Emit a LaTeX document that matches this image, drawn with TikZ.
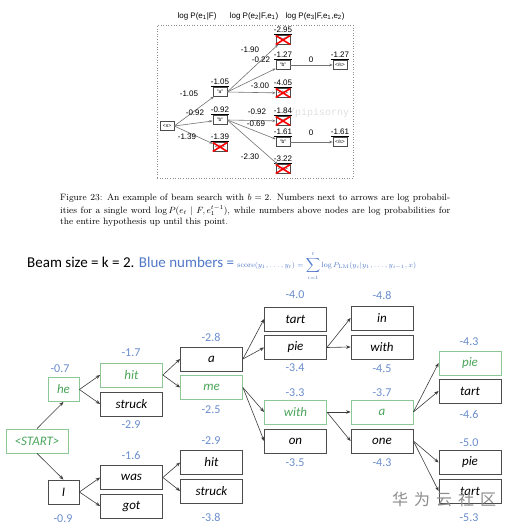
\documentclass[tikz,border=0pt]{standalone}
\usepackage{fontspec}
\usetikzlibrary{arrows.meta,calc}
\newfontfamily\arialf{Liberation Sans}
\newfontfamily\calf{Carlito}
\newfontfamily\cjkf{Noto Sans CJK SC}
\newfontfamily\monof{Liberation Mono}
\definecolor{numblue}{RGB}{105,140,205}
\definecolor{titleblue}{RGB}{80,120,200}
\definecolor{gtext}{RGB}{75,165,90}
\definecolor{gborder}{RGB}{140,200,150}
\definecolor{edgegray}{RGB}{60,60,60}
\tikzset{
 tbox/.style={draw=black!70, line width=0.5pt, minimum width=14pt, minimum height=8.5pt, inner sep=0pt, font=\arialf\fontsize{5}{5}\selectfont},
 tlab/.style={font=\arialf\fontsize{8}{9}\selectfont, inner sep=0.5pt},
 tedge/.style={draw=black!55, line width=0.6pt, -{Stealth[length=3.5pt,width=2.5pt]}},
 redx/.style={draw=red, line width=1.6pt},
 bbox/.style={draw=black!70, line width=0.8pt, minimum width=62pt, minimum height=24pt, inner sep=0pt, font=\calf\itshape\fontsize{13}{13}\selectfont},
 gbox/.style={bbox, draw=gborder, text=gtext},
 sbox/.style={minimum width=31pt},
 bnum/.style={font=\calf\fontsize{12}{12}\selectfont, text=numblue, inner sep=0pt},
 bedge/.style={draw=edgegray, line width=0.6pt, -{Stealth[length=4.5pt,width=3.5pt]}},
 ulab/.style={label={[tlab,label distance=0pt]above:\underline{#1}}},
}
\newcommand\redcross[1]{\draw[redx] (#1.north west) -- (#1.south east) (#1.north east) -- (#1.south west);}
\begin{document}
\begin{tikzpicture}[x=1pt,y=-1pt]
\useasboundingbox (0,0) rectangle (510,526);
% ---------- top diagram ----------
\node[tlab] (h1) at (197,16) {log P(e\textsubscript{1}|F)};
\node[tlab] (h2) at (254,16) {log P(e\textsubscript{2}|F,e\textsubscript{1})};
\node[tlab] (h3) at (315,16) {log P(e\textsubscript{3}|F,e\textsubscript{1},e\textsubscript{2})};
\node[draw=black!45, dotted, line width=0.6pt, minimum width=196pt, minimum height=153pt, inner sep=0pt] (frame) at (255,101.5) {};
\node[text=black!12, font=\monof\fontsize{10}{10}\selectfont] (wm1) at (316,113) {t/pipisorny};

\node[tbox] (s) at (167,126) {<s>};
\node[tbox, ulab=-1.05] (a1) at (220,92) {"a"};
\node[tbox, ulab=-0.92] (b1) at (220,120) {"b"};
\node[tbox, ulab=-1.39] (x1) at (220,147) {</s>};
\node[tbox, ulab=-2.95] (x2) at (283,40) {"a"};
\node[tbox, ulab=-1.27] (b2) at (283,65) {"b"};
\node[tbox, ulab=-4.05] (x3) at (283,93) {</s>};
\node[tbox, ulab=-1.84] (x4) at (283,121) {"a"};
\node[tbox, ulab=-1.61] (b3) at (283,142) {"b"};
\node[tbox, ulab=-3.22] (x5) at (283,169) {</s>};
\node[tbox, ulab=-1.27] (e1) at (340,65) {</s>};
\node[tbox, ulab=-1.61] (e2) at (340,142) {</s>};

\draw[tedge] (s.east) -- (a1);
\draw[tedge] (s.east) -- (b1);
\draw[tedge] (s.east) -- (x1);
\draw[tedge] (a1.east) -- (x2);
\draw[tedge] (a1.east) -- (b2);
\draw[tedge] (a1.east) -- (x3);
\draw[tedge] (b1.east) -- (x4);
\draw[tedge] (b1.east) -- (b3);
\draw[tedge] (b1.east) -- (x5);
\draw[tedge] (b2) -- (e1);
\draw[tedge] (b3) -- (e2);

\redcross{x1}\redcross{x2}\redcross{x3}\redcross{x4}\redcross{x5}

\node[tlab] (l1) at (189,94) {-1.05};
\node[tlab] (l2) at (195,113) {-0.92};
\node[tlab] (l3) at (187,137) {-1.39};
\node[tlab] (l4) at (250,50) {-1.90};
\node[tlab] (l5) at (261,60) {-0.22};
\node[tlab] (l6) at (260,86) {-3.00};
\node[tlab] (l7) at (257,112) {-0.92};
\node[tlab] (l8) at (256,124) {-0.69};
\node[tlab] (l9) at (250,157) {-2.30};
\node[tlab] (l10) at (311,60) {0};
\node[tlab] (l11) at (311,133) {0};

% ---------- caption ----------
\begin{scope}[every node/.style={anchor=base west, inner sep=0pt, font=\fontsize{9.2}{11}\selectfont}]
\node (c1) at (60,201) {\makebox[390pt][s]{Figure 23: An example of beam search with $b=2$. Numbers next to arrows are log probabil-}};
\node (c2) at (60,213.5) {\makebox[390pt][s]{ities for a single word $\log P(e_t \mid F, e_1^{t-1})$, while numbers above nodes are log probabilities for}};
\node (c3) at (60,224.5) {the entire hypothesis up until this point.};
\end{scope}

% ---------- bottom title ----------
\node[anchor=base west, inner sep=0pt, font=\calf\fontsize{15}{15}\selectfont] (title) at (27,267)
 {Beam size = k = 2. \textcolor{titleblue}{Blue numbers =} \textcolor{titleblue}{\fontsize{7.5}{9}\selectfont $\mathrm{score}(y_1,\ldots,y_t)=\displaystyle\sum_{i=1}^{t}\log P_{\mathrm{LM}}(y_i|y_1,\ldots,y_{i-1},x)$}};

% ---------- bottom tree ----------
\node[gbox] (start) at (37,441) {<START>};
\node[gbox, sbox] (he) at (63.5,389.5) {he};
\node[bbox, sbox] (I) at (63.5,492) {I};
\node[gbox] (hit) at (131.5,375) {hit};
\node[bbox] (struck) at (131.5,404) {struck};
\node[bbox] (was) at (131.5,477.5) {was};
\node[bbox] (got) at (131.5,506) {got};
\node[bbox] (a) at (211.5,359) {a};
\node[gbox] (me) at (211.5,387.5) {me};
\node[bbox] (hitb) at (211.5,462.5) {hit};
\node[bbox] (struckb) at (211.5,491) {struck};
\node[bbox] (tart) at (295.5,319) {tart};
\node[bbox] (pie) at (295.5,347.5) {pie};
\node[gbox] (with) at (295.5,412) {with};
\node[bbox] (on) at (295.5,441) {on};
\node[bbox] (in) at (382,318) {in};
\node[bbox] (withb) at (382,347) {with};
\node[gbox] (ag) at (382,412) {a};
\node[bbox] (one) at (382,441) {one};
\node[gbox] (pieg) at (470,363) {pie};
\node[bbox] (tartc) at (470,391) {tart};
\node[bbox] (pied) at (470,462.5) {pie};
\node[bbox] (tartd) at (470,491) {tart};

\draw[bedge] (start.north) -- (he.south);
\draw[bedge] (start.south) -- (I.north);
\draw[bedge] (he.east) -- (hit.west);
\draw[bedge] (he.east) -- (struck.west);
\draw[bedge] (I.east) -- (was.west);
\draw[bedge] (I.east) -- (got.west);
\draw[bedge] (hit.east) -- (a.west);
\draw[bedge] (hit.east) -- (me.west);
\draw[bedge] (was.east) -- (hitb.west);
\draw[bedge] (was.east) -- (struckb.west);
\draw[bedge] (a.east) -- (tart.west);
\draw[bedge] (a.east) -- (pie.west);
\draw[bedge] (me.east) -- (with.west);
\draw[bedge] (me.east) -- (on.west);
\draw[bedge] (pie.east) -- (in.west);
\draw[bedge] (pie.east) -- (withb.west);
\draw[bedge] (with.east) -- (ag.west);
\draw[bedge] (with.east) -- (one.west);
\draw[bedge] (ag.east) -- (pieg.west);
\draw[bedge] (ag.east) -- (tartc.west);
\draw[bedge] (one.east) -- (pied.west);
\draw[bedge] (one.east) -- (tartd.west);

\node[bnum] (n1) at (60,369) {-0.7};
\node[bnum] (n2) at (131,353) {-1.7};
\node[bnum] (n3) at (131,425) {-2.9};
\node[bnum] (n4) at (211,337) {-2.8};
\node[bnum] (n5) at (211,410) {-2.5};
\node[bnum] (n6) at (131,455) {-1.6};
\node[bnum] (n7) at (63,519) {-0.9};
\node[bnum] (n8) at (211,441) {-2.9};
\node[bnum] (n9) at (211,517) {-3.8};
\node[bnum] (n10) at (295,295) {-4.0};
\node[bnum] (n11) at (295,368) {-3.4};
\node[bnum] (n12) at (382,295) {-4.8};
\node[bnum] (n13) at (382,369) {-4.5};
\node[bnum] (n14) at (295,393) {-3.3};
\node[bnum] (n15) at (382,393) {-3.7};
\node[bnum] (n16) at (469,342) {-4.3};
\node[bnum] (n17) at (469,414) {-4.6};
\node[bnum] (n18) at (295,463) {-3.5};
\node[bnum] (n19) at (382,463) {-4.3};
\node[bnum] (n20) at (469,443) {-5.0};
\node[bnum] (n21) at (469,518) {-5.3};

\node[text=black!45, font=\cjkf\fontsize{16}{16}\selectfont] (wm2) at (444,499) {华\hspace{6pt}为\hspace{6pt}云\hspace{6pt}社\hspace{6pt}区};
\end{tikzpicture}
\end{document}
